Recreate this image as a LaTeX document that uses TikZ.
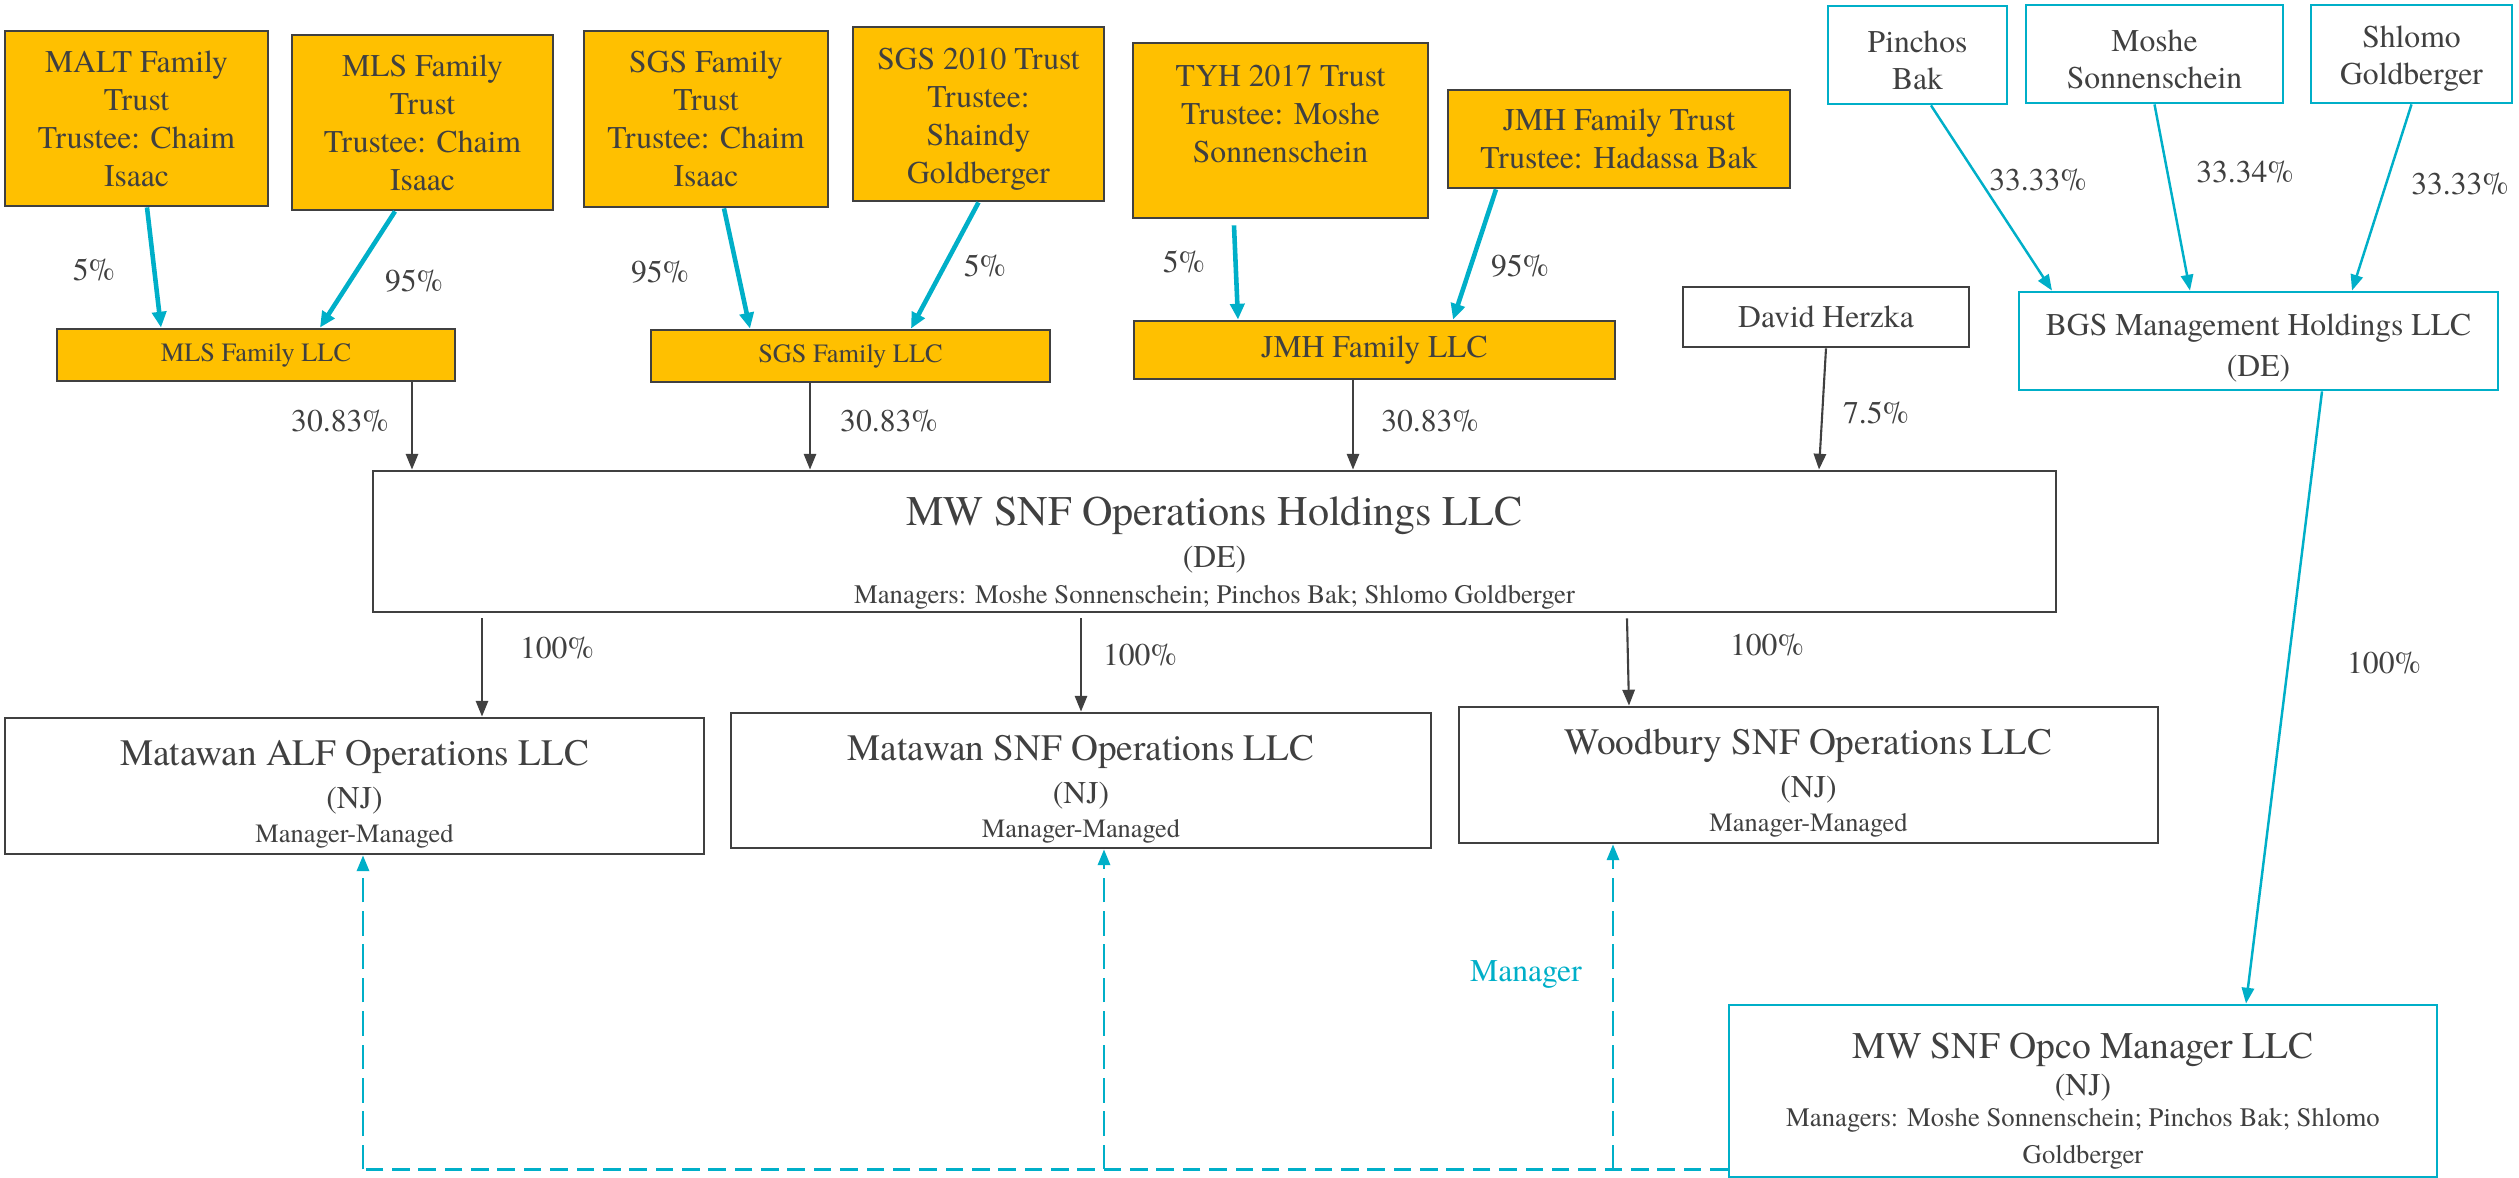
\documentclass[tikz,border=0pt]{standalone}
\usepackage{fontspec}
\setmainfont{texgyretermes}[Extension=.otf, UprightFont=*-regular, BoldFont=*-bold, ItalicFont=*-italic]
\usetikzlibrary{arrows.meta}
\definecolor{gold}{HTML}{FFC000}
\definecolor{boxgray}{HTML}{404040}
\definecolor{txtgray}{HTML}{404040}
\definecolor{bgscyan}{HTML}{00AFC8}

\begin{document}
\begin{tikzpicture}[
    every node/.style={text=txtgray, align=center, inner sep=0pt},
    trust/.style={draw=boxgray, line width=0.8pt, fill=gold, font=\fontsize{9}{10.8}\selectfont},
    entity/.style={draw=boxgray, line width=0.8pt, fill=white, font=\fontsize{9}{10.5}\selectfont},
    person/.style={draw=bgscyan, line width=0.8pt, fill=white, font=\fontsize{9}{10.5}\selectfont},
    pct/.style={font=\fontsize{9}{10.5}\selectfont},
    own/.style={draw=bgscyan, line width=1.3pt, -{Triangle[length=4.5pt,width=4pt]}},
    vote/.style={draw=bgscyan, line width=0.7pt, -{Triangle[length=4.5pt,width=3.5pt]}},
    stake/.style={draw=boxgray, line width=0.6pt, -{Triangle[length=4.5pt,width=3.5pt]}},
    mgr/.style={draw=bgscyan, line width=0.7pt, dash pattern=on 7pt off 2.5pt, -{Triangle[length=4.5pt,width=3.5pt]}},
    mgrbus/.style={draw=bgscyan, line width=1pt, dash pattern=on 5pt off 2.5pt}
  ]
\useasboundingbox (0,0) rectangle (25.19,11.77);

\node[trust, minimum width=2.63cm, minimum height=1.75cm] (malt) at (1.365,10.585) {MALT Family\\Trust\\Trustee: Chaim\\Isaac};
\node[trust, minimum width=2.61cm, minimum height=1.75cm] (mlst) at (4.225,10.545) {MLS Family\\Trust\\Trustee: Chaim\\Isaac};
\node[trust, minimum width=2.44cm, minimum height=1.76cm] (sgst) at (7.06,10.58) {SGS Family\\Trust\\Trustee: Chaim\\Isaac};
\node[trust, minimum width=2.51cm, minimum height=1.74cm] (sgs10) at (9.785,10.63) {\rule{0pt}{9pt}SGS 2010 Trust\\Trustee:\\Shaindy\\Goldberger};
\node[trust, minimum width=2.95cm, minimum height=1.75cm] (tyh) at (12.805,10.465) {TYH 2017 Trust\\Trustee: Moshe\\Sonnenschein\\[-1.2pt]};
\node[trust, minimum width=3.42cm, minimum height=0.98cm] (jmht) at (16.19,10.38) {JMH Family Trust\\Trustee: Hadassa Bak};

\node[trust, font=\fontsize{7.5}{9}\selectfont, minimum width=3.98cm, minimum height=0.52cm] (mlsllc) at (2.56,8.22) {MLS Family LLC};
\node[trust, font=\fontsize{7.5}{9}\selectfont, minimum width=3.99cm, minimum height=0.52cm] (sgsllc) at (8.505,8.21) {SGS Family LLC};
\node[trust, minimum width=4.81cm, minimum height=0.58cm] (jmhllc) at (13.745,8.27) {JMH Family LLC};
\node[entity, minimum width=2.86cm, minimum height=0.60cm] (herzka) at (18.26,8.60) {David Herzka};

\node[person, minimum width=1.79cm, minimum height=0.98cm] (pinchos) at (19.175,11.22) {\rule{0pt}{9pt}Pinchos\\Bak};
\node[person, minimum width=2.57cm, minimum height=0.98cm] (moshe) at (21.545,11.23) {\rule{0pt}{9pt}Moshe\\Sonnenschein};
\node[person, minimum width=2.01cm, minimum height=0.98cm] (shlomo) at (24.115,11.23) {\rule{0pt}{9pt}Shlomo\\Goldberger};
\node[person, font=\fontsize{9}{11.8}\selectfont, minimum width=4.79cm, minimum height=0.98cm] (bgs) at (22.585,8.36) {\rule{0pt}{10pt}BGS Management Holdings LLC\\(DE)};

\node[entity, minimum width=16.83cm, minimum height=1.41cm] (hold) at (12.145,6.355)
  {{\fontsize{12}{14}\selectfont\rule{0pt}{15pt}MW SNF Operations Holdings LLC}\\[1.2pt](DE)\\{\fontsize{7.6}{9}\selectfont Managers: Moshe Sonnenschein; Pinchos Bak; Shlomo Goldberger}};

\node[entity, minimum width=6.99cm, minimum height=1.36cm] (alf) at (3.545,3.91)
  {{\fontsize{10.6}{12}\selectfont\rule{0pt}{12pt}Matawan ALF Operations LLC}\\[1.8pt](NJ)\\[-0.9pt]{\fontsize{7.5}{9}\selectfont Manager-Managed}};
\node[entity, minimum width=7.00cm, minimum height=1.35cm] (snf) at (10.81,3.965)
  {{\fontsize{10.6}{12}\selectfont\rule{0pt}{12pt}Matawan SNF Operations LLC}\\[1.8pt](NJ)\\[-0.9pt]{\fontsize{7.5}{9}\selectfont Manager-Managed}};
\node[entity, minimum width=6.99cm, minimum height=1.36cm] (wood) at (18.085,4.02)
  {{\fontsize{10.6}{12}\selectfont\rule{0pt}{12pt}Woodbury SNF Operations LLC}\\[1.8pt](NJ)\\[-0.9pt]{\fontsize{7.5}{9}\selectfont Manager-Managed}};
\node[person, minimum width=7.08cm, minimum height=1.72cm] (opco) at (20.83,0.86)
  {{\fontsize{10.7}{12}\selectfont\rule{0pt}{13pt}MW SNF Opco Manager LLC}\\(NJ)\\[-1.6pt]{\fontsize{7.6}{9.5}\selectfont Managers: Moshe Sonnenschein; Pinchos Bak; Shlomo}\\{\fontsize{7.6}{9.5}\selectfont Goldberger}};

\draw[own] ([xshift=0.105cm]malt.south) -- ([xshift=-0.95cm]mlsllc.north);
\draw[own] ([xshift=-0.275cm]mlst.south) -- ([xshift=0.64cm]mlsllc.north);
\draw[own] ([xshift=0.18cm]sgst.south) -- ([xshift=-1.005cm]sgsllc.north);
\draw[own] (sgs10.south) -- ([xshift=0.605cm]sgsllc.north);
\draw[own] ([xshift=-0.465cm,yshift=-0.06cm]tyh.south) -- ([xshift=-1.365cm]jmhllc.north);
\draw[own] ([xshift=-1.23cm]jmht.south) -- ([xshift=0.785cm]jmhllc.north);

\draw[stake] ([xshift=1.56cm]mlsllc.south) -- ([xshift=1.56cm]mlsllc.south |- hold.north);
\draw[stake] ([xshift=-0.405cm]sgsllc.south) -- ([xshift=-0.405cm]sgsllc.south |- hold.north);
\draw[stake] ([xshift=-0.215cm]jmhllc.south) -- ([xshift=-0.215cm]jmhllc.south |- hold.north);
\draw[stake] (herzka.south) -- ([xshift=-0.07cm]herzka.south |- hold.north);
\draw[stake] ([xshift=1.275cm,yshift=-0.05cm]alf.north |- hold.south) -- ([xshift=1.275cm]alf.north);
\draw[stake] ([yshift=-0.05cm]snf.north |- hold.south) -- (snf.north);
\draw[stake] ([xshift=-1.815cm,yshift=-0.05cm]wood.north |- hold.south) -- ([xshift=-1.795cm]wood.north);

\draw[vote] ([xshift=0.135cm]pinchos.south) -- ([xshift=-2.065cm]bgs.north);
\draw[vote] (moshe.south) -- ([xshift=-0.685cm]bgs.north);
\draw[vote] (shlomo.south) -- ([xshift=0.935cm]bgs.north);
\draw[vote] ([xshift=0.635cm]bgs.south) -- ([xshift=1.63cm]opco.north);

\coordinate (bus) at ([yshift=0.09cm]opco.south west);
\coordinate (busend) at ([xshift=0.085cm]alf.south |- bus);
\draw[mgrbus] (bus) -- (busend);
\draw[mgr] (busend) -- ([xshift=0.085cm]alf.south);
\draw[mgr] ([xshift=0.23cm]snf.south |- bus) -- ([xshift=0.23cm]snf.south);
\draw[mgr] ([xshift=-1.955cm]wood.south |- bus) -- node[pos=0.6, left=0.3cm, text=bgscyan, font=\fontsize{9}{10.5}\selectfont] (mgrlabel) {Manager} ([xshift=-1.955cm]wood.south);

\node[pct] (p1) at (0.94,9.07) {5\%};
\node[pct] (p2) at (4.14,8.96) {95\%};
\node[pct] (p3) at (6.60,9.05) {95\%};
\node[pct] (p4) at (9.85,9.11) {5\%};
\node[pct] (p5) at (11.84,9.15) {5\%};
\node[pct] (p6) at (15.20,9.11) {95\%};
\node[pct] (p7) at (3.40,7.56) {30.83\%};
\node[pct] (p8) at (8.89,7.56) {30.83\%};
\node[pct] (p9) at (14.30,7.56) {30.83\%};
\node[pct] (p10) at (18.76,7.64) {7.5\%};
\node[pct] (p11) at (20.38,9.97) {33.33\%};
\node[pct] (p12) at (22.45,10.05) {33.34\%};
\node[pct] (p13) at (24.60,9.93) {33.33\%};
\node[pct] (p14) at (5.57,5.29) {100\%};
\node[pct] (p15) at (11.40,5.22) {100\%};
\node[pct] (p16) at (17.67,5.32) {100\%};
\node[pct] (p17) at (23.84,5.14) {100\%};
\end{tikzpicture}
\end{document}
